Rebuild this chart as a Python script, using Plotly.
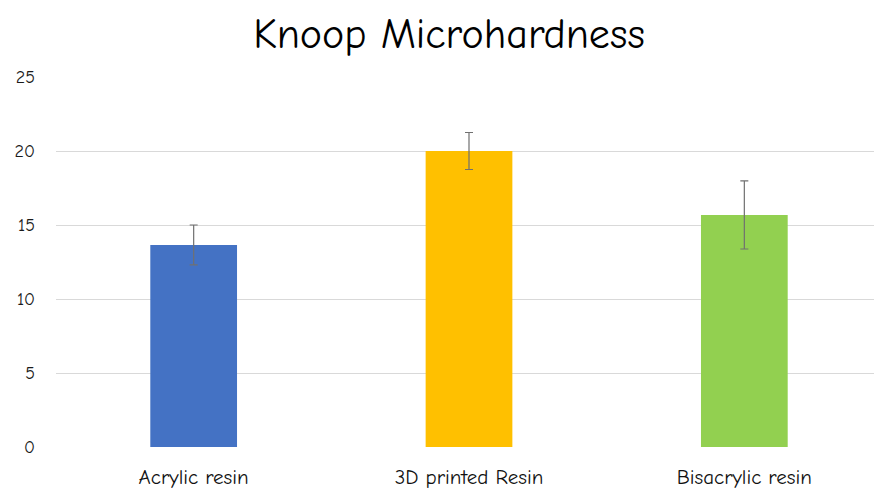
import plotly.graph_objects as go

categories = ["Acrylic resin", "3D printed Resin", "Bisacrylic resin"]
values = [13.65, 20.0, 15.68]
errors = [1.35, 1.25, 2.3]
colors = ["#4472C4", "#FFC000", "#92D050"]
yticks = [0, 5, 10, 15, 20, 25]

font_family = "Comic Sans MS, Comic Neue, Lato, sans-serif"

fig = go.Figure(go.Bar(
    x=categories, y=values,
    marker=dict(color=colors, line=dict(width=0)),
    width=0.315,
    error_y=dict(type="data", array=errors, color="#707070", thickness=1.2, width=4),
))

fig.update_layout(
    width=882, height=489,
    margin=dict(l=48, r=8, t=69, b=50),
    paper_bgcolor="white", plot_bgcolor="white",
    title=dict(text="Knoop Microhardness", x=0.5, xanchor="center", y=0.949, yanchor="middle",
               font=dict(family=font_family, size=42, color="#000000")),
    font=dict(family=font_family, color="#222222", size=16),
    showlegend=False,
    xaxis=dict(showgrid=False, showline=False, ticks="", ticklabelstandoff=15,
               tickfont=dict(size=21, color="#111111")),
    yaxis=dict(range=[0, 25], tickvals=yticks, showgrid=True, gridcolor="#D9D9D9", gridwidth=1,
               zeroline=False, showline=False, ticks="", ticklabelstandoff=20,
               tickfont=dict(size=18, color="#1a1a1a")),
)

fig.write_html("out.html")
